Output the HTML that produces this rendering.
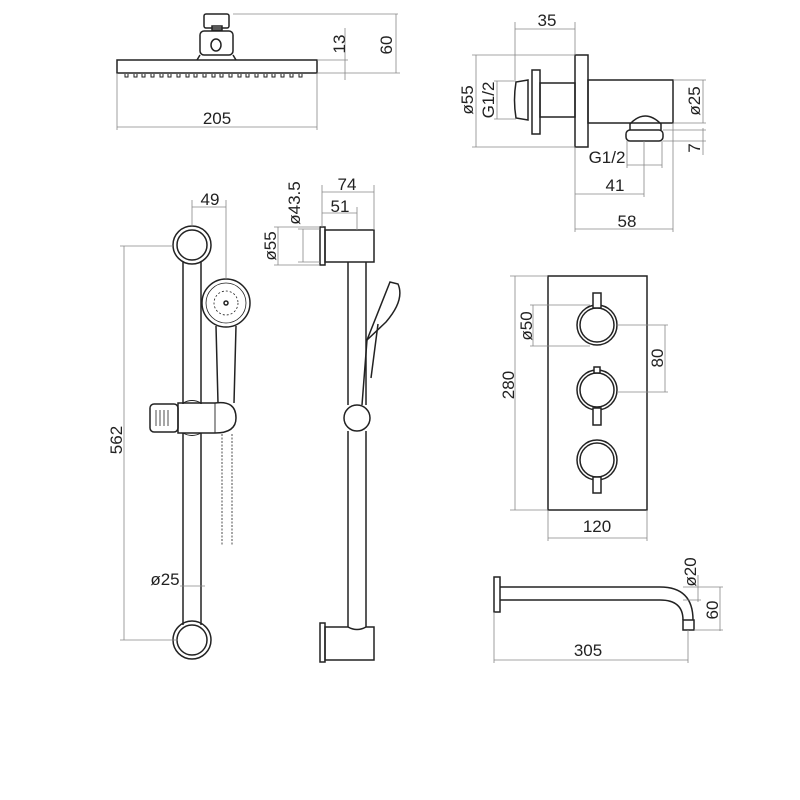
<!DOCTYPE html>
<html><head><style>html,body{margin:0;padding:0;background:#fff}svg{display:block}text{font-family:"Liberation Sans",sans-serif;font-size:17px;fill:#222}</style></head>
<body>
<svg width="800" height="800" viewBox="0 0 800 800" xmlns="http://www.w3.org/2000/svg">
<g fill="none" stroke="#222" stroke-width="1.5">
<!-- shower head -->
<rect x="117" y="60" width="200" height="13"/>
<rect x="204" y="14" width="25" height="14" rx="2"/>
<rect x="212" y="26" width="10" height="4"/>
<rect x="200" y="31" width="33" height="24" rx="4"/>
<ellipse cx="216" cy="45" rx="5" ry="6"/>
<path d="M200 55 L197 60 M233 55 L236 60"/>
<g stroke-width="1">
<path d="M125 74 v3 h3 v-3 M134 74 v3 h3 v-3 M142 74 v3 h3 v-3 M151 74 v3 h3 v-3 M160 74 v3 h3 v-3 M168 74 v3 h3 v-3 M177 74 v3 h3 v-3 M186 74 v3 h3 v-3 M194 74 v3 h3 v-3 M203 74 v3 h3 v-3 M212 74 v3 h3 v-3 M220 74 v3 h3 v-3 M229 74 v3 h3 v-3 M238 74 v3 h3 v-3 M246 74 v3 h3 v-3 M255 74 v3 h3 v-3 M264 74 v3 h3 v-3 M272 74 v3 h3 v-3 M281 74 v3 h3 v-3 M290 74 v3 h3 v-3 M299 74 v3 h3 v-3"/>
</g>
<!-- wall elbow -->
<rect x="575" y="55" width="13" height="92"/>
<rect x="588" y="80" width="85" height="43"/>
<rect x="540" y="83" width="35" height="34"/>
<rect x="532" y="70" width="8" height="64"/>
<path d="M528 80 L516 82 Q513 100 516 118 L528 120 Z"/>
<path d="M630 130 L630 124 Q645 108 661 124 L661 130"/>
<rect x="626" y="130" width="37" height="11" rx="4"/>
<!-- rail front -->
<circle cx="192" cy="245" r="19"/><circle cx="192" cy="245" r="15"/>
<circle cx="192" cy="640" r="19"/><circle cx="192" cy="640" r="15"/>
<path d="M183 262 V404 M201 262 V404 M183 433 V625 M201 433 V625"/>
<rect x="150" y="404" width="28" height="28" rx="4"/>
<path d="M156 410 v16 M160 410 v16 M164 410 v16 M168 410 v16" stroke-width="0.8"/>
<path d="M178 403 H215 Q236 400 236 418 Q236 433 215 433 H178 Z"/>
<path d="M215 403 V433 M183 403 Q192 398 201 403 M183 433 Q192 438 201 433" stroke-width="0.9"/>
<circle cx="226" cy="303" r="24"/><circle cx="226" cy="303" r="20" stroke-width="0.8"/>
<circle cx="226" cy="303" r="2"/>
<circle cx="226" cy="303" r="12" stroke-dasharray="2 2" stroke-width="0.8"/>
<path d="M216 326 L218 403 M236 326 L234 403"/>
<path d="M222 434 V545 M232 434 V545" stroke-dasharray="2 1.5" stroke-width="0.8"/>
<!-- rail side -->
<rect x="320" y="227" width="5" height="38"/>
<rect x="325" y="230" width="49" height="32"/>
<path d="M348 262 V405 M366 262 V405 M348 431 V627 M366 431 V627"/>
<circle cx="357" cy="418" r="13"/>
<rect x="320" y="623" width="5" height="39"/>
<path d="M325 627 H348 Q357 632 366 627 H374 V660 H325 Z"/>
<path d="M367 340 L390 282 L398 284 Q405 300 386 322 Z"/>
<path d="M367 340 L362 405 M378 324 L371 378"/>
<!-- thermostat -->
<rect x="548" y="276" width="99" height="234"/>
<circle cx="597" cy="325" r="20"/><circle cx="597" cy="325" r="17"/>
<circle cx="597" cy="390" r="20"/><circle cx="597" cy="390" r="17"/>
<circle cx="597" cy="460" r="20"/><circle cx="597" cy="460" r="17"/>
<rect x="593" y="293" width="8" height="15" fill="#fff"/>
<rect x="594" y="367" width="6" height="6" fill="#fff"/>
<rect x="593" y="408" width="8" height="17" fill="#fff"/>
<rect x="593" y="477" width="8" height="16" fill="#fff"/>
<!-- spout -->
<rect x="494" y="577" width="6" height="35"/>
<path d="M500 587 H660 Q693 587 693 620 M500 600 H660 Q683 600 683 620"/>
<rect x="683" y="620" width="11" height="10"/>
</g>
<g fill="none" stroke="#888" stroke-width="0.8">
<path d="M233 14 H398 M396 14 V73 M317 60 H348 M317 73 H400 M345 28 V80 M117 73 V130 M317 73 V130 M117 127 H317"/>
<path d="M515 22 V80 M575 22 V55 M515 29 H575 M476 55 V147 M472 55 H575 M472 147 H575 M497 81 V119 M494 81 H516 M494 119 H516 M703 80 V123 M673 80 H706 M673 123 H706 M703 128 V155 M663 130 H706 M663 141 H706 M627 141 V168 M662 141 V168 M627 165 H662 M575 147 V232 M673 123 V232 M644 141 V197 M575 194 H644 M575 229 H673"/>
<path d="M192 200 V226 M226 200 V279 M192 207 H226 M124 246 V640 M120 246 H173 M120 640 H178 M180 586 H205"/>
<path d="M322 185 V227 M374 185 V230 M322 192 H374 M357 207 V230 M322 213 H357 M303 229 V262 M298 229 H320 M298 262 H320 M278 227 V265 M274 227 H320 M274 265 H320"/>
<path d="M515 276 V510 M510 276 H548 M510 510 H548 M533 305 V346 M530 305 H590 M530 346 H590 M665 325 V392 M617 325 H668 M617 392 H668 M548 510 V541 M647 510 V541 M548 538 H647"/>
<path d="M494 612 V663 M688 630 V663 M494 660 H688 M698 575 V602 M683 587 H701 M683 600 H701 M720 587 V631 M694 587 H723 M694 630 H723"/>
</g>
<text x="217" y="124" text-anchor="middle">205</text>
<text transform="translate(345,44) rotate(-90)" text-anchor="middle">13</text>
<text transform="translate(392,45) rotate(-90)" text-anchor="middle">60</text>
<text x="547" y="26" text-anchor="middle">35</text>
<text transform="translate(473,100) rotate(-90)" text-anchor="middle">ø55</text>
<text transform="translate(494,100) rotate(-90)" text-anchor="middle">G1/2</text>
<text transform="translate(700,101) rotate(-90)" text-anchor="middle">ø25</text>
<text transform="translate(700,148) rotate(-90)" text-anchor="middle">7</text>
<text x="607" y="163" text-anchor="middle">G1/2</text>
<text x="615" y="191" text-anchor="middle">41</text>
<text x="627" y="227" text-anchor="middle">58</text>
<text x="210" y="205" text-anchor="middle">49</text>
<text transform="translate(122,440) rotate(-90)" text-anchor="middle">562</text>
<text x="165" y="585" text-anchor="middle">ø25</text>
<text x="347" y="190" text-anchor="middle">74</text>
<text x="340" y="212" text-anchor="middle">51</text>
<text transform="translate(300,203) rotate(-90)" text-anchor="middle">ø43.5</text>
<text transform="translate(276,246) rotate(-90)" text-anchor="middle">ø55</text>
<text transform="translate(514,385) rotate(-90)" text-anchor="middle">280</text>
<text transform="translate(532,326) rotate(-90)" text-anchor="middle">ø50</text>
<text transform="translate(663,358) rotate(-90)" text-anchor="middle">80</text>
<text x="597" y="532" text-anchor="middle">120</text>
<text x="588" y="656" text-anchor="middle">305</text>
<text transform="translate(696,572) rotate(-90)" text-anchor="middle">ø20</text>
<text transform="translate(718,610) rotate(-90)" text-anchor="middle">60</text>
</svg>
</body></html>
